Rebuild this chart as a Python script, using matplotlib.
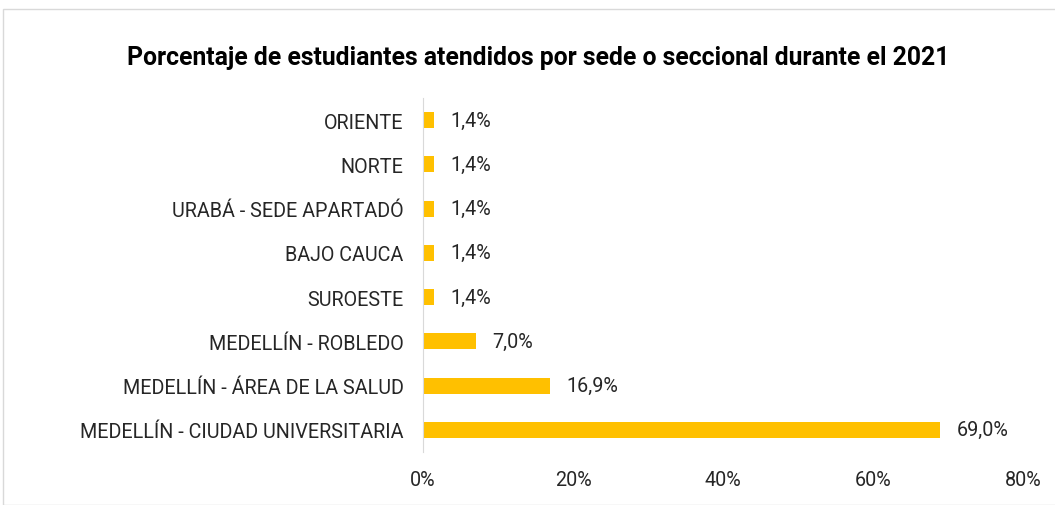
import matplotlib
matplotlib.use("Agg")
import matplotlib.pyplot as plt
from matplotlib.patches import Rectangle

categories = ["MEDELLÍN - CIUDAD UNIVERSITARIA", "MEDELLÍN - ÁREA DE LA SALUD",
              "MEDELLÍN - ROBLEDO", "SUROESTE", "BAJO CAUCA",
              "URABÁ - SEDE APARTADÓ", "NORTE", "ORIENTE"]
values = [69.0, 16.9, 7.0, 1.4, 1.4, 1.4, 1.4, 1.4]
xticks = [0, 20, 40, 60, 80]
title = "Porcentaje de estudiantes atendidos por sede o seccional durante el 2021"

plt.rcParams['font.family'] = ['Roboto', 'DejaVu Sans']

fig = plt.figure(figsize=(10.55, 5.06), dpi=100)
fig.patches.append(Rectangle((3/1055, 0), 1.0, (506-10)/506, transform=fig.transFigure,
                             fill=False, edgecolor='#d9d9d9', linewidth=1))
ax = fig.add_axes([423/1055, 53/506, 600/1055, 354/506])
y = list(range(len(categories)))
ax.barh(y, values, height=0.36, color='#FFC000')
for yi, v in zip(y, values):
    ax.text(v + 2.2, yi, f"{v:.1f}%".replace('.', ','), va='center', ha='left',
            fontsize=14.2, color='#262626')
ax.set_xlim(0, 80)
ax.set_ylim(-0.5, len(categories) - 0.5)
ax.set_yticks(y)
ax.set_yticklabels(categories, fontsize=14.2, color='#262626')
ax.set_xticks(xticks)
ax.set_xticklabels([f"{t}%" for t in xticks], fontsize=14.2, color='#262626')
for s in ['top', 'right', 'bottom']:
    ax.spines[s].set_visible(False)
ax.spines['left'].set_color('#d9d9d9')
ax.tick_params(axis='both', length=0)
ax.tick_params(axis='y', pad=14)
ax.tick_params(axis='x', pad=13)
fig.text(538/1055, 1 - 58/506, title, ha='center', va='center', fontsize=17.8,
         fontweight='bold', color='#000000')
fig.savefig('out.png', dpi=100)
